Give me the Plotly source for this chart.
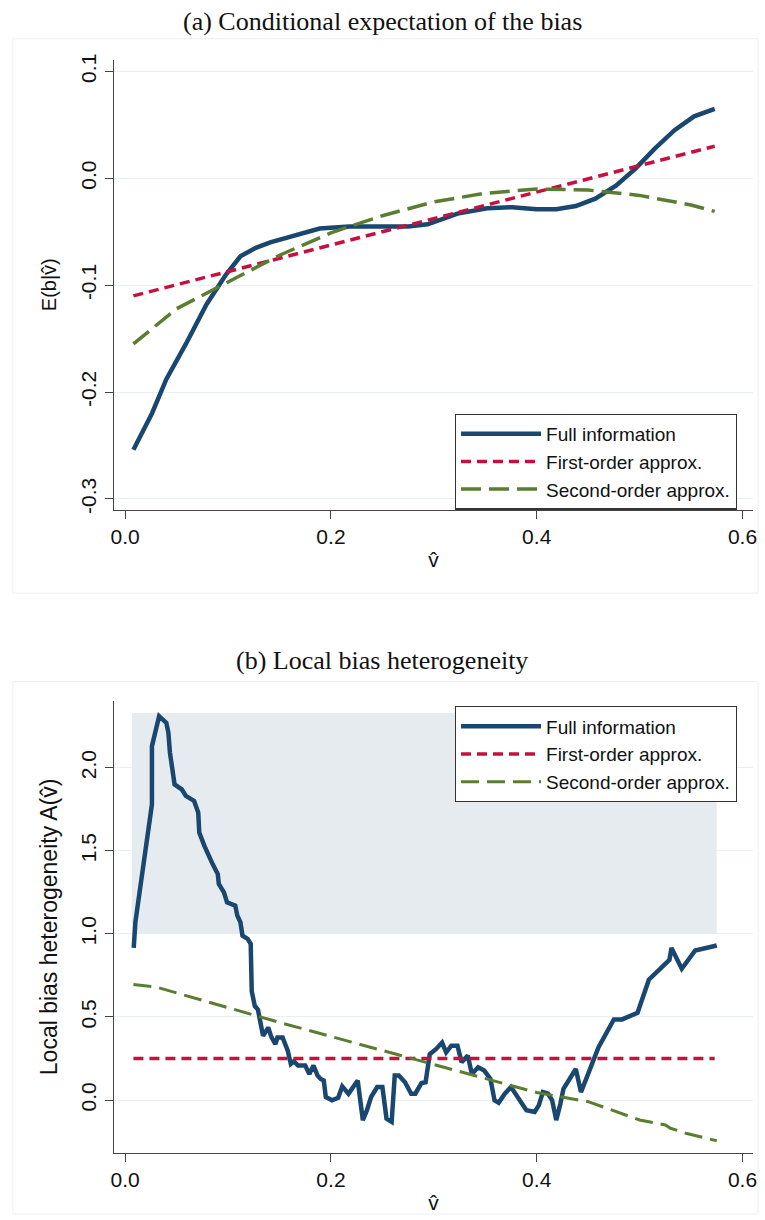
import plotly.graph_objects as go

W, H = 765, 1220

# ---------------- Panel (a) data ----------------
a_v_full = [0.008, 0.026, 0.040, 0.059, 0.079, 0.098, 0.112, 0.127, 0.141, 0.160, 0.189,
            0.218, 0.246, 0.275, 0.294, 0.323, 0.352, 0.376, 0.400, 0.419, 0.438, 0.457,
            0.477, 0.496, 0.515, 0.534, 0.553, 0.573]
a_full = [-0.254, -0.220, -0.188, -0.155, -0.118, -0.090, -0.073, -0.065, -0.060, -0.055, -0.047,
          -0.045, -0.045, -0.045, -0.043, -0.033, -0.028, -0.027, -0.029, -0.029, -0.026, -0.019,
          -0.007, 0.009, 0.028, 0.045, 0.058, 0.065]
a_v_first = [0.008, 0.573]
a_first = [-0.110, 0.030]
a_v_second = [0.008, 0.05, 0.10, 0.15, 0.20, 0.25, 0.30, 0.35, 0.40, 0.45, 0.50, 0.55, 0.573]
a_second = [-0.155, -0.122, -0.097, -0.072, -0.051, -0.035, -0.022, -0.014, -0.010, -0.011,
            -0.016, -0.025, -0.031]

# ---------------- Panel (b) data ----------------
b_v_full = [0.0083, 0.0099, 0.026, 0.026, 0.033, 0.040, 0.042, 0.0435, 0.048, 0.055, 0.059,
            0.067, 0.071, 0.072, 0.077, 0.081, 0.085, 0.090, 0.091, 0.096, 0.099, 0.107,
            0.109, 0.112, 0.114, 0.119, 0.122, 0.123, 0.126, 0.129, 0.134, 0.139, 0.142,
            0.146, 0.148, 0.153, 0.156, 0.158, 0.161, 0.164, 0.168, 0.175, 0.179, 0.183,
            0.187, 0.190, 0.193, 0.195, 0.201, 0.207, 0.211, 0.217, 0.226, 0.231, 0.235,
            0.239, 0.245, 0.250, 0.254, 0.259, 0.262, 0.266, 0.272, 0.278, 0.282, 0.288,
            0.292, 0.296, 0.302, 0.308, 0.312, 0.317, 0.323, 0.327, 0.333, 0.337, 0.343,
            0.349, 0.355, 0.359, 0.363, 0.369, 0.375, 0.381, 0.390, 0.398, 0.402, 0.406,
            0.411, 0.415, 0.419, 0.423, 0.426, 0.438, 0.443, 0.450, 0.460, 0.475, 0.483,
            0.498, 0.509, 0.529, 0.531, 0.541, 0.554, 0.575]
b_full = [0.916, 1.07, 1.78, 2.13, 2.31, 2.27, 2.21, 2.09, 1.90, 1.87, 1.83,
          1.80, 1.73, 1.61, 1.53, 1.47, 1.42, 1.36, 1.30, 1.25, 1.19, 1.17,
          1.11, 1.07, 0.99, 0.97, 0.94, 0.655, 0.565, 0.545, 0.386, 0.436, 0.380,
          0.336, 0.376, 0.376, 0.336, 0.297, 0.217, 0.233, 0.207, 0.207, 0.157, 0.207,
          0.147, 0.127, 0.118, 0.018, -0.002, 0.014, 0.082, 0.038, 0.118, -0.121, -0.061,
          0.018, 0.078, 0.078, -0.112, -0.131, 0.147, 0.147, 0.107, 0.038, 0.038, 0.102,
          0.107, 0.276, 0.306, 0.346, 0.287, 0.327, 0.327, 0.227, 0.267, 0.157, 0.197,
          0.177, 0.127, -0.002, -0.016, 0.038, 0.078, 0.018, -0.061, -0.072, -0.032, 0.048,
          0.038, -0.002, -0.121, -0.022, 0.067, 0.187, 0.048, 0.157, 0.316, 0.485, 0.485,
          0.525, 0.724, 0.843, 0.915, 0.79, 0.90, 0.93]
b_v_first = [0.008, 0.573]
b_first = [0.25, 0.25]
b_v_second = [0.008, 0.030, 0.150, 0.300, 0.400, 0.450, 0.500, 0.525, 0.530, 0.545, 0.575]
b_second = [0.695, 0.680, 0.467, 0.216, 0.045, -0.010, -0.120, -0.150, -0.170, -0.200, -0.245]
shade_v = [0.0065, 0.575]
shade_lo = [1.0, 1.0]
shade_hi = [2.33, 2.33]

names = ["Full information", "First-order approx.", "Second-order approx."]
x_ticks = [0.0, 0.2, 0.4, 0.6]
x_ticktext = ["0.0", "0.2", "0.4", "0.6"]
a_yticks = [-0.3, -0.2, -0.1, 0.0, 0.1]
a_yticktext = ["-0.3", "-0.2", "-0.1", "0.0", "0.1"]
b_yticks = [0.0, 0.5, 1.0, 1.5, 2.0]
b_yticktext = ["0.0", "0.5", "1.0", "1.5", "2.0"]

NAVY = "#1a476f"
RED = "#c8103e"
GREEN = "#5b7d32"
SHADE = "#e6ebf0"
GRID = "#e8f0f2"
AXIS = "#444444"
TXT = "#111111"
SANS = "Liberation Sans, Arial, sans-serif"
SERIF = "Liberation Serif, Times New Roman, serif"

fig = go.Figure()

# panel (a)
fig.add_trace(go.Scatter(x=a_v_full, y=a_full, mode="lines", name=names[0],
                         line=dict(color=NAVY, width=4.5), xaxis="x", yaxis="y", legend="legend"))
fig.add_trace(go.Scatter(x=a_v_first, y=a_first, mode="lines", name=names[1],
                         line=dict(color=RED, width=3.5, dash="10px,6px"), xaxis="x", yaxis="y", legend="legend"))
fig.add_trace(go.Scatter(x=a_v_second, y=a_second, mode="lines", name=names[2],
                         line=dict(color=GREEN, width=3.5, dash="20px,8px"), xaxis="x", yaxis="y", legend="legend"))

# panel (b) shaded band
fig.add_trace(go.Scatter(x=shade_v, y=shade_lo, mode="lines", line=dict(width=0, color=SHADE),
                         showlegend=False, hoverinfo="skip", xaxis="x2", yaxis="y2"))
fig.add_trace(go.Scatter(x=shade_v, y=shade_hi, mode="lines", line=dict(width=0, color=SHADE),
                         fill="tonexty", fillcolor=SHADE, showlegend=False, hoverinfo="skip",
                         xaxis="x2", yaxis="y2"))
fig.add_trace(go.Scatter(x=b_v_full, y=b_full, mode="lines", name=names[0],
                         line=dict(color=NAVY, width=4.5), xaxis="x2", yaxis="y2", legend="legend2"))
fig.add_trace(go.Scatter(x=b_v_first, y=b_first, mode="lines", name=names[1],
                         line=dict(color=RED, width=3.5, dash="10px,6px"), xaxis="x2", yaxis="y2", legend="legend2"))
fig.add_trace(go.Scatter(x=b_v_second, y=b_second, mode="lines", name=names[2],
                         line=dict(color=GREEN, width=3, dash="18px,8px"), xaxis="x2", yaxis="y2", legend="legend2"))

xdom = [112 / W, 757 / W]
a_ydom = [1 - 508 / H, 1 - 54 / H]
b_ydom = [1 - 1156 / H, 1 - 701 / H]

common_x = dict(range=[-0.0109, 0.6103], tickvals=x_ticks, ticktext=x_ticktext, showgrid=False,
                zeroline=False, showline=True, linecolor=AXIS, linewidth=1.3, ticks="outside",
                ticklen=8, tickcolor=AXIS, tickwidth=1.3,
                tickfont=dict(family=SANS, size=21, color=TXT))
common_y = dict(showgrid=True, gridcolor=GRID, gridwidth=1.3, zeroline=False, showline=True,
                linecolor=AXIS, linewidth=1.3, ticks="outside", ticklen=8, tickcolor=AXIS,
                tickwidth=1.3, tickangle=-90, tickfont=dict(family=SANS, size=21, color=TXT))

legend_common = dict(xanchor="left", yanchor="top", bgcolor="white", bordercolor="#333",
                     borderwidth=1.2, font=dict(family=SANS, size=19, color=TXT),
                     itemwidth=80, tracegroupgap=0, traceorder="normal",
                     entrywidth=200, entrywidthmode="pixels")

fig.update_layout(
    width=W, height=H, margin=dict(l=0, r=0, t=0, b=0),
    paper_bgcolor="white", plot_bgcolor="white",
    xaxis=dict(domain=xdom, anchor="y", **common_x,
               title=dict(text="v̂", font=dict(family=SANS, size=21, color=TXT), standoff=5)),
    yaxis=dict(domain=a_ydom, anchor="x", range=[-0.3102, 0.1111], tickvals=a_yticks,
               ticktext=a_yticktext, **common_y,
               title=dict(text="E(b|v̂)", font=dict(family=SANS, size=20, color=TXT), standoff=15)),
    xaxis2=dict(domain=xdom, anchor="y2", **common_x,
                title=dict(text="v̂", font=dict(family=SANS, size=21, color=TXT), standoff=5)),
    yaxis2=dict(domain=b_ydom, anchor="x2", range=[-0.316, 2.40], tickvals=b_yticks,
                ticktext=b_yticktext, **common_y,
                title=dict(text="Local bias heterogeneity A(v̂)", font=dict(family=SANS, size=23, color=TXT),
                           standoff=13)),
    legend=dict(x=456 / W, y=1 - 411 / H, **legend_common),
    legend2=dict(x=456 / W, y=1 - 706 / H, **legend_common),
    annotations=[
        dict(text="(a) Conditional expectation of the bias", x=0.5, y=1 - 16 / H, xref="paper",
             yref="paper", showarrow=False, xanchor="center", yanchor="middle",
             font=dict(family=SERIF, size=26, color=TXT)),
        dict(text="(b) Local bias heterogeneity", x=0.5, y=1 - 660 / H, xref="paper",
             yref="paper", showarrow=False, xanchor="center", yanchor="middle",
             font=dict(family=SERIF, size=26, color=TXT)),
    ],
    shapes=[
        dict(type="rect", xref="paper", yref="paper", x0=10 / W, x1=762 / W, y0=1 - 592 / H,
             y1=1 - 33 / H, line=dict(color="#efefef", width=1), layer="below"),
        dict(type="rect", xref="paper", yref="paper", x0=10 / W, x1=762 / W, y0=1 - 1218 / H,
             y1=1 - 681 / H, line=dict(color="#efefef", width=1), layer="below"),
    ],
    showlegend=True,
)

fig.write_html(
    "out.html",
    config={"responsive": False, "displayModeBar": False},
    post_script="document.body.style.margin='0';document.body.style.padding='0';"
                "document.documentElement.style.overflow='hidden';document.body.style.overflow='hidden';",
)
